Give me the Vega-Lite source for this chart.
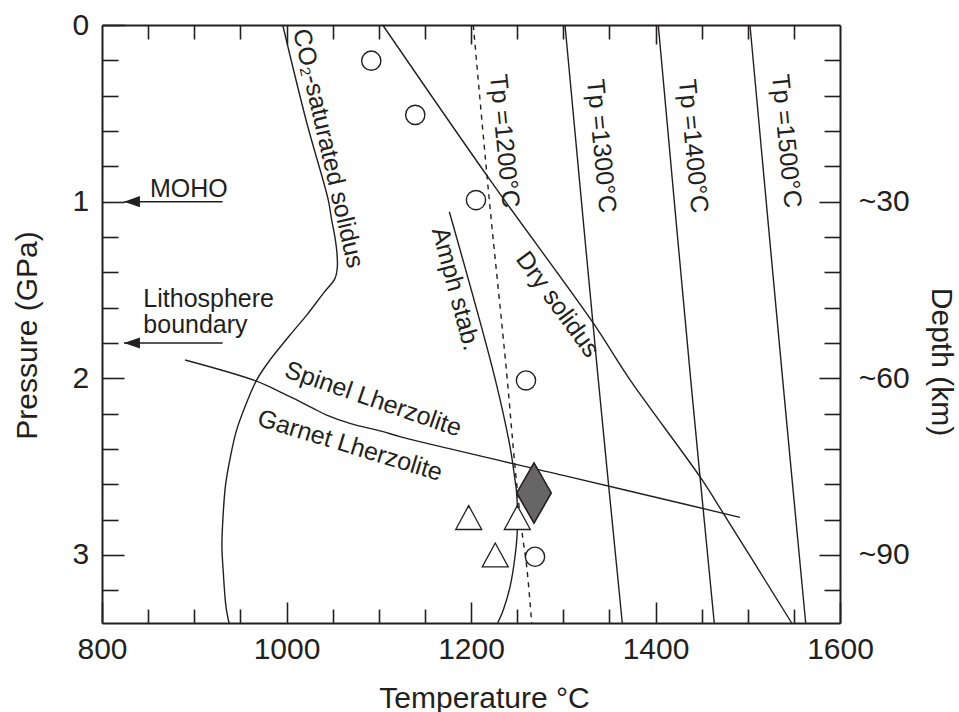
{
  "$schema": "https://vega.github.io/schema/vega-lite/v6.json",
  "width": 738,
  "height": 598,
  "autosize": {"type": "none"},
  "padding": {"left": 102, "top": 25, "right": 119, "bottom": 89},
  "background": "white",
  "config": {
    "view": {"stroke": null},
    "font": "Liberation Sans",
    "axis": {
      "grid": false,
      "labelFont": "Liberation Sans",
      "labelFontSize": 30,
      "labelColor": "#231f20",
      "labelFlush": false,
      "labelOverlap": false,
      "titleFont": "Liberation Sans",
      "titleFontSize": 30,
      "titleFontWeight": "normal",
      "titleColor": "#231f20",
      "tickColor": "#231f20",
      "tickWidth": 1.6,
      "domainColor": "#231f20",
      "domainWidth": 2
    }
  },
  "datasets": {
    "curves": [
      {"curve": "co2", "seq": 1, "T": 995.9, "P": 0},
      {"curve": "co2", "seq": 2, "T": 1021.9, "P": 0.552},
      {"curve": "co2", "seq": 3, "T": 1045.3, "P": 0.991},
      {"curve": "co2", "seq": 4, "T": 1049.0, "P": 1.104},
      {"curve": "co2", "seq": 5, "T": 1051.8, "P": 1.179},
      {"curve": "co2", "seq": 6, "T": 1054.4, "P": 1.274},
      {"curve": "co2", "seq": 7, "T": 1055.1, "P": 1.37},
      {"curve": "co2", "seq": 8, "T": 1052.6, "P": 1.434},
      {"curve": "co2", "seq": 9, "T": 1039.9, "P": 1.519},
      {"curve": "co2", "seq": 10, "T": 1021.9, "P": 1.642},
      {"curve": "co2", "seq": 11, "T": 1003.8, "P": 1.755},
      {"curve": "co2", "seq": 12, "T": 982.1, "P": 1.896},
      {"curve": "co2", "seq": 13, "T": 967.7, "P": 2.009},
      {"curve": "co2", "seq": 14, "T": 955.0, "P": 2.161},
      {"curve": "co2", "seq": 15, "T": 945.5, "P": 2.3},
      {"curve": "co2", "seq": 16, "T": 939.0, "P": 2.45},
      {"curve": "co2", "seq": 17, "T": 934.0, "P": 2.6},
      {"curve": "co2", "seq": 18, "T": 931.0, "P": 2.8},
      {"curve": "co2", "seq": 19, "T": 930.0, "P": 2.95},
      {"curve": "co2", "seq": 20, "T": 931.5, "P": 3.1},
      {"curve": "co2", "seq": 21, "T": 934.4, "P": 3.292},
      {"curve": "co2", "seq": 22, "T": 937.7, "P": 3.385},
      {"curve": "dry", "seq": 1, "T": 1104.3, "P": 0},
      {"curve": "dry", "seq": 2, "T": 1220.6, "P": 0.877},
      {"curve": "dry", "seq": 3, "T": 1332.6, "P": 1.688},
      {"curve": "dry", "seq": 4, "T": 1372.4, "P": 2.009},
      {"curve": "dry", "seq": 5, "T": 1448.2, "P": 2.557},
      {"curve": "dry", "seq": 6, "T": 1473.5, "P": 2.764},
      {"curve": "dry", "seq": 7, "T": 1547.6, "P": 3.385},
      {"curve": "tp1300", "seq": 1, "T": 1301.9, "P": 0},
      {"curve": "tp1300", "seq": 2, "T": 1338.0, "P": 2.009},
      {"curve": "tp1300", "seq": 3, "T": 1364.0, "P": 3.385},
      {"curve": "tp1400", "seq": 1, "T": 1403.0, "P": 0},
      {"curve": "tp1400", "seq": 2, "T": 1438.2, "P": 2.009},
      {"curve": "tp1400", "seq": 3, "T": 1463.7, "P": 3.385},
      {"curve": "tp1500", "seq": 1, "T": 1502.4, "P": 0},
      {"curve": "tp1500", "seq": 2, "T": 1537.9, "P": 2.009},
      {"curve": "tp1500", "seq": 3, "T": 1562.8, "P": 3.385},
      {"curve": "amph", "seq": 1, "T": 1176.5, "P": 1.057},
      {"curve": "amph", "seq": 2, "T": 1226.0, "P": 2.0},
      {"curve": "amph", "seq": 3, "T": 1242.3, "P": 2.387},
      {"curve": "amph", "seq": 4, "T": 1247.7, "P": 2.576},
      {"curve": "amph", "seq": 5, "T": 1249.5, "P": 2.651},
      {"curve": "amph", "seq": 6, "T": 1250.2, "P": 2.859},
      {"curve": "amph", "seq": 7, "T": 1247.7, "P": 3.01},
      {"curve": "amph", "seq": 8, "T": 1242.3, "P": 3.18},
      {"curve": "amph", "seq": 9, "T": 1235.0, "P": 3.311},
      {"curve": "amph", "seq": 10, "T": 1228.9, "P": 3.385},
      {"curve": "sg", "seq": 1, "T": 890.0, "P": 1.896},
      {"curve": "sg", "seq": 2, "T": 965.9, "P": 2.013},
      {"curve": "sg", "seq": 3, "T": 996.5, "P": 2.085},
      {"curve": "sg", "seq": 4, "T": 1014.6, "P": 2.132},
      {"curve": "sg", "seq": 5, "T": 1029.0, "P": 2.17},
      {"curve": "sg", "seq": 6, "T": 1043.6, "P": 2.208},
      {"curve": "sg", "seq": 7, "T": 1068.8, "P": 2.255},
      {"curve": "sg", "seq": 8, "T": 1104.9, "P": 2.302},
      {"curve": "sg", "seq": 9, "T": 1123.0, "P": 2.33},
      {"curve": "sg", "seq": 10, "T": 1300.0, "P": 2.5495},
      {"curve": "sg", "seq": 11, "T": 1400.0, "P": 2.673},
      {"curve": "sg", "seq": 12, "T": 1491.6, "P": 2.787}
    ],
    "tp1200": [
      {"seq": 1, "T": 1202.5, "P": 0},
      {"seq": 2, "T": 1218.8, "P": 0.934},
      {"seq": 3, "T": 1238.7, "P": 1.972},
      {"seq": 4, "T": 1247.7, "P": 2.5},
      {"seq": 5, "T": 1255.0, "P": 2.859},
      {"seq": 6, "T": 1260.4, "P": 3.066},
      {"seq": 7, "T": 1265.8, "P": 3.385}
    ],
    "arrows": [
      {"boundary": "MOHO", "T": 823.8, "T2": 930.8, "P": 1.0},
      {"boundary": "Lithosphere", "T": 823.8, "T2": 930.8, "P": 1.8}
    ],
    "circles": [
      {"T": 1091.9, "P": 0.202},
      {"T": 1139.6, "P": 0.509},
      {"T": 1205.4, "P": 0.991},
      {"T": 1259.6, "P": 2.012},
      {"T": 1269.4, "P": 3.01}
    ],
    "triangles": [
      {"T": 1197.5, "P": 2.788},
      {"T": 1250.2, "P": 2.788},
      {"T": 1226.3, "P": 3.0}
    ],
    "diamond": [
      {"T": 1268.3, "P": 2.649}
    ]
  },
  "resolve": {"axis": {"x": "independent", "y": "independent"}},
  "layer": [
    {
      "data": {"name": "curves"},
      "mark": {"type": "line", "interpolate": "catmull-rom", "color": "#231f20", "strokeWidth": 1.4},
      "encoding": {
        "x": {
          "field": "T", "type": "quantitative",
          "scale": {"domain": [800, 1600], "nice": false, "zero": false},
          "axis": {"orient": "bottom", "values": [850, 900, 950, 1050, 1100, 1150, 1250, 1300, 1350, 1450, 1500, 1550], "tickSize": -14, "labels": false, "title": null}
        },
        "y": {
          "field": "P", "type": "quantitative",
          "scale": {"domain": [0, 3.385], "reverse": true, "nice": false, "zero": false},
          "axis": {"orient": "left", "values": [0.2, 0.4, 0.6, 0.8, 1.2, 1.4, 1.6, 1.8, 2.2, 2.4, 2.6, 2.8, 3.2], "tickSize": -16, "labels": false, "title": null}
        },
        "detail": {"field": "curve"},
        "order": {"field": "seq", "type": "quantitative"}
      }
    },
    {
      "data": {"name": "tp1200"},
      "mark": {"type": "line", "interpolate": "catmull-rom", "color": "#231f20", "strokeWidth": 1.4, "strokeDash": [5, 5]},
      "encoding": {
        "x": {
          "field": "T", "type": "quantitative",
          "scale": {"domain": [800, 1600], "nice": false, "zero": false},
          "axis": {"orient": "bottom", "values": [800, 1000, 1200, 1400, 1600], "format": "d", "tickSize": -21, "labelPadding": 32.6, "domain": false,
                   "title": "Temperature °C", "titleX": 382, "titleY": 84, "titleBaseline": "alphabetic", "titleAlign": "center"}
        },
        "y": {
          "field": "P", "type": "quantitative",
          "scale": {"domain": [0, 3.385], "reverse": true, "nice": false, "zero": false},
          "axis": {"orient": "left", "values": [0, 1, 2, 3], "format": "d", "tickSize": -22, "labelPadding": 35.3, "domain": false,
                   "title": "Pressure (GPa)", "titleX": -66, "titleY": 310, "titleAngle": -90, "titleBaseline": "alphabetic", "titleAlign": "center"}
        },
        "order": {"field": "seq", "type": "quantitative"}
      }
    },
    {
      "data": {"name": "arrows"},
      "mark": {"type": "rule", "color": "#231f20", "strokeWidth": 1.5},
      "encoding": {
        "x": {
          "field": "T", "type": "quantitative",
          "scale": {"domain": [800, 1600], "nice": false, "zero": false},
          "axis": {"orient": "top", "values": [850, 900, 950, 1050, 1100, 1150, 1250, 1300, 1350, 1450, 1500, 1550], "tickSize": -14, "labels": false, "title": null}
        },
        "x2": {"field": "T2"},
        "y": {
          "field": "P", "type": "quantitative",
          "scale": {"domain": [0, 3.385], "reverse": true, "nice": false, "zero": false},
          "axis": {"orient": "right", "values": [0.2, 0.4, 0.6, 0.8, 1.2, 1.4, 1.6, 1.8, 2.2, 2.4, 2.6, 2.8, 3.2], "tickSize": -16, "labels": false, "title": null}
        }
      }
    },
    {
      "data": {"name": "arrows"},
      "mark": {"type": "point", "shape": "M0,0L2,-0.7L2,0.7Z", "size": 256, "filled": true, "color": "#231f20", "opacity": 1, "strokeWidth": 0},
      "encoding": {
        "x": {
          "field": "T", "type": "quantitative",
          "scale": {"domain": [800, 1600], "nice": false, "zero": false},
          "axis": {"orient": "top", "values": [1000, 1200, 1400], "tickSize": -19, "labels": false, "title": null, "domain": false}
        },
        "y": {
          "field": "P", "type": "quantitative",
          "scale": {"domain": [0, 3.385], "reverse": true, "nice": false, "zero": false},
          "axis": {"orient": "right", "values": [1, 2, 3], "tickSize": -21, "labelPadding": 39.3, "domain": false,
                   "labelExpr": "'~' + format(datum.value * 30, 'd')",
                   "title": "Depth (km)", "titleX": 91, "titleY": 336.5, "titleAngle": 90, "titleBaseline": "alphabetic", "titleAlign": "center"}
        }
      }
    },
    {
      "data": {"name": "circles"},
      "mark": {"type": "point", "shape": "circle", "size": 370, "filled": true, "fill": "white", "stroke": "#231f20", "strokeWidth": 1.4, "opacity": 1},
      "encoding": {
        "x": {"field": "T", "type": "quantitative", "scale": {"domain": [800, 1600], "nice": false, "zero": false}, "axis": null},
        "y": {"field": "P", "type": "quantitative", "scale": {"domain": [0, 3.385], "reverse": true, "nice": false, "zero": false}, "axis": null}
      }
    },
    {
      "data": {"name": "triangles"},
      "mark": {"type": "point", "shape": "M0,-0.92L-1,0.92L1,0.92Z", "size": 676, "filled": true, "fill": "white", "stroke": "#231f20", "strokeWidth": 1.3, "opacity": 1},
      "encoding": {
        "x": {"field": "T", "type": "quantitative", "scale": {"domain": [800, 1600], "nice": false, "zero": false}, "axis": null},
        "y": {"field": "P", "type": "quantitative", "scale": {"domain": [0, 3.385], "reverse": true, "nice": false, "zero": false}, "axis": null}
      }
    },
    {
      "data": {"name": "diamond"},
      "mark": {"type": "point", "shape": "M0,-1.75L1,0L0,1.75L-1,0Z", "size": 1190, "filled": true, "fill": "#666666", "stroke": "#231f20", "strokeWidth": 1.6, "opacity": 1},
      "encoding": {
        "x": {"field": "T", "type": "quantitative", "scale": {"domain": [800, 1600], "nice": false, "zero": false}, "axis": null},
        "y": {"field": "P", "type": "quantitative", "scale": {"domain": [0, 3.385], "reverse": true, "nice": false, "zero": false}, "axis": null}
      }
    },
    {
      "data": {"values": [
        {"text": "MOHO", "T": 852, "P": 0.972},
        {"text": "Lithosphere", "T": 844.8, "P": 1.595},
        {"text": "boundary", "T": 844.8, "P": 1.745}
      ]},
      "mark": {"type": "text", "align": "left", "baseline": "alphabetic", "fontSize": 25, "color": "#231f20"},
      "encoding": {
        "x": {"field": "T", "type": "quantitative", "scale": {"domain": [800, 1600], "nice": false, "zero": false}, "axis": null},
        "y": {"field": "P", "type": "quantitative", "scale": {"domain": [0, 3.385], "reverse": true, "nice": false, "zero": false}, "axis": null},
        "text": {"field": "text"}
      }
    },
    {
      "data": {"values": [{"text": "CO₂-saturated solidus", "T": 1007, "P": 0.034}]},
      "mark": {"type": "text", "align": "left", "baseline": "alphabetic", "fontSize": 25, "color": "#231f20", "angle": 77},
      "encoding": {
        "x": {"field": "T", "type": "quantitative", "scale": {"domain": [800, 1600], "nice": false, "zero": false}, "axis": null},
        "y": {"field": "P", "type": "quantitative", "scale": {"domain": [0, 3.385], "reverse": true, "nice": false, "zero": false}, "axis": null},
        "text": {"field": "text"}
      }
    },
    {
      "data": {"values": [
        {"text": "Tp =1200°C", "T": 1220.6, "P": 0.283},
        {"text": "Tp =1300°C", "T": 1325.7, "P": 0.311},
        {"text": "Tp =1400°C", "T": 1425.3, "P": 0.311},
        {"text": "Tp =1500°C", "T": 1526.3, "P": 0.283}
      ]},
      "mark": {"type": "text", "align": "left", "baseline": "alphabetic", "fontSize": 25, "color": "#231f20", "angle": 84.5},
      "encoding": {
        "x": {"field": "T", "type": "quantitative", "scale": {"domain": [800, 1600], "nice": false, "zero": false}, "axis": null},
        "y": {"field": "P", "type": "quantitative", "scale": {"domain": [0, 3.385], "reverse": true, "nice": false, "zero": false}, "axis": null},
        "text": {"field": "text"}
      }
    },
    {
      "data": {"values": [{"text": "Dry solidus", "T": 1247.7, "P": 1.325}]},
      "mark": {"type": "text", "align": "left", "baseline": "alphabetic", "fontSize": 25, "color": "#231f20", "angle": 54},
      "encoding": {
        "x": {"field": "T", "type": "quantitative", "scale": {"domain": [800, 1600], "nice": false, "zero": false}, "axis": null},
        "y": {"field": "P", "type": "quantitative", "scale": {"domain": [0, 3.385], "reverse": true, "nice": false, "zero": false}, "axis": null},
        "text": {"field": "text"}
      }
    },
    {
      "data": {"values": [{"text": "Amph stab.", "T": 1157.4, "P": 1.16}]},
      "mark": {"type": "text", "align": "left", "baseline": "alphabetic", "fontSize": 25, "color": "#231f20", "angle": 75},
      "encoding": {
        "x": {"field": "T", "type": "quantitative", "scale": {"domain": [800, 1600], "nice": false, "zero": false}, "axis": null},
        "y": {"field": "P", "type": "quantitative", "scale": {"domain": [0, 3.385], "reverse": true, "nice": false, "zero": false}, "axis": null},
        "text": {"field": "text"}
      }
    },
    {
      "data": {"values": [{"text": "Spinel Lherzolite", "T": 996.5, "P": 1.99}]},
      "mark": {"type": "text", "align": "left", "baseline": "alphabetic", "fontSize": 25, "color": "#231f20", "angle": 19},
      "encoding": {
        "x": {"field": "T", "type": "quantitative", "scale": {"domain": [800, 1600], "nice": false, "zero": false}, "axis": null},
        "y": {"field": "P", "type": "quantitative", "scale": {"domain": [0, 3.385], "reverse": true, "nice": false, "zero": false}, "axis": null},
        "text": {"field": "text"}
      }
    },
    {
      "data": {"values": [{"text": "Garnet Lherzolite", "T": 966.9, "P": 2.264}]},
      "mark": {"type": "text", "align": "left", "baseline": "alphabetic", "fontSize": 25, "color": "#231f20", "angle": 17},
      "encoding": {
        "x": {"field": "T", "type": "quantitative", "scale": {"domain": [800, 1600], "nice": false, "zero": false}, "axis": null},
        "y": {"field": "P", "type": "quantitative", "scale": {"domain": [0, 3.385], "reverse": true, "nice": false, "zero": false}, "axis": null},
        "text": {"field": "text"}
      }
    }
  ]
}
